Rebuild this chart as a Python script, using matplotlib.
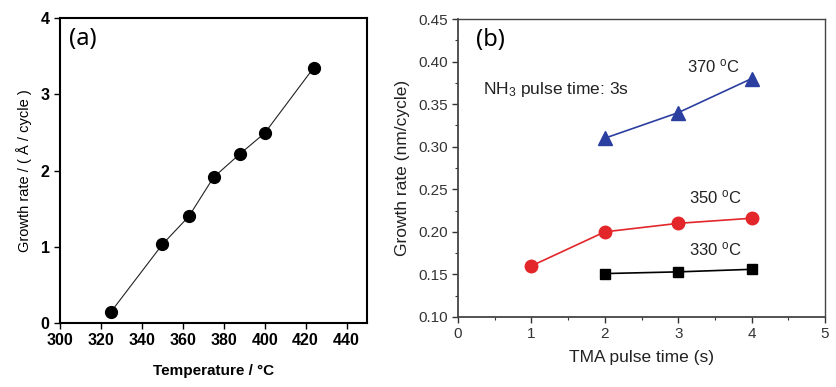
import matplotlib
matplotlib.use('Agg')
import matplotlib.pyplot as plt
from matplotlib.ticker import MultipleLocator, AutoMinorLocator, FormatStrFormatter

# Panel (a): growth rate vs temperature
temp_c = [325, 350, 363, 375, 388, 400, 424]
rate_a = [0.15, 1.03, 1.40, 1.91, 2.22, 2.49, 3.35]

# Panel (b): growth rate vs TMA pulse time
pulse_330 = [2, 3, 4]
rate_330 = [0.151, 0.153, 0.156]
pulse_350 = [1, 2, 3, 4]
rate_350 = [0.160, 0.200, 0.210, 0.216]
pulse_370 = [2, 3, 4]
rate_370 = [0.310, 0.340, 0.380]

fig = plt.figure(figsize=(8.37, 3.87), dpi=100)
plt.rcParams['font.family'] = ['Liberation Sans', 'DejaVu Sans']
plt.rcParams['mathtext.fontset'] = 'custom'
plt.rcParams['mathtext.rm'] = 'Liberation Sans'
plt.rcParams['mathtext.it'] = 'Liberation Sans:italic'

# ---- panel (a)
ax1 = fig.add_axes([0.0717, 0.1654, 0.3668, 0.788])
ax1.plot(temp_c, rate_a, color='#222222', linewidth=0.8, marker='o',
         markersize=8.5, markerfacecolor='black', markeredgecolor='black')
ax1.set_xlim(300, 450)
ax1.set_ylim(0, 4)
ax1.set_xticks(range(300, 441, 20))
ax1.set_yticks(range(0, 5))
for s in ax1.spines.values():
    s.set_linewidth(1.5)
ax1.tick_params(direction='out', length=4, width=1.0, labelsize=11.5)
for lbl in ax1.get_xticklabels() + ax1.get_yticklabels():
    lbl.set_fontweight('bold')
ax1.set_xlabel('Temperature / °C', fontsize=11, fontweight='bold', labelpad=11)
ax1.set_ylabel('Growth rate / ( Å / cycle )', fontsize=10.5, labelpad=6)
ax1.text(0.03, 0.97, '(a)', transform=ax1.transAxes, fontsize=17,
         family=['Noto Sans', 'DejaVu Sans'], va='top', ha='left')

# ---- panel (b)
ax2 = fig.add_axes([0.5472, 0.1809, 0.4385, 0.770])
ax2.plot(pulse_330, rate_330, color='black', linewidth=1.2, marker='s',
         markersize=7.5)
ax2.plot(pulse_350, rate_350, color='#e3262a', linewidth=1.2, marker='o',
         markersize=9)
ax2.plot(pulse_370, rate_370, color='#2b3fa0', linewidth=1.2, marker='^',
         markersize=10)
ax2.set_xlim(0, 5)
ax2.set_ylim(0.10, 0.45)
ax2.xaxis.set_major_locator(MultipleLocator(1))
ax2.yaxis.set_major_locator(MultipleLocator(0.05))
ax2.xaxis.set_minor_locator(AutoMinorLocator(2))
ax2.yaxis.set_minor_locator(AutoMinorLocator(2))
ax2.yaxis.set_major_formatter(FormatStrFormatter('%.2f'))
ax2.tick_params(which='major', direction='out', length=4, width=1.0,
                labelsize=11, colors='#333333')
ax2.tick_params(which='minor', direction='out', length=2.5, width=0.8,
                colors='#333333')
for s in ax2.spines.values():
    s.set_color('#444444')
    s.set_linewidth(1.0)
ax2.spines['left'].set_linewidth(1.3)
ax2.spines['bottom'].set_linewidth(1.3)
ax2.set_xlabel('TMA pulse time (s)', fontsize=12.5, labelpad=6, color='#222222')
ax2.set_ylabel('Growth rate (nm/cycle)', fontsize=12.5, labelpad=6, color='#222222')
ax2.text(0.05, 0.97, '(b)', transform=ax2.transAxes, fontsize=17,
         family=['Noto Sans', 'DejaVu Sans'], va='top', ha='left')
ax2.text(0.34, 0.367, r'NH$_3$ pulse time: 3s', fontsize=12.5, va='center',
         color='#222222')
ax2.text(3.12, 0.395, r'370 $^{\rm o}$C', fontsize=12, va='center', color='#222222')
ax2.text(3.15, 0.241, r'350 $^{\rm o}$C', fontsize=12, va='center', color='#222222')
ax2.text(3.15, 0.179, r'330 $^{\rm o}$C', fontsize=12, va='center', color='#222222')

plt.savefig('out.png', dpi=100)
plt.close(fig)
